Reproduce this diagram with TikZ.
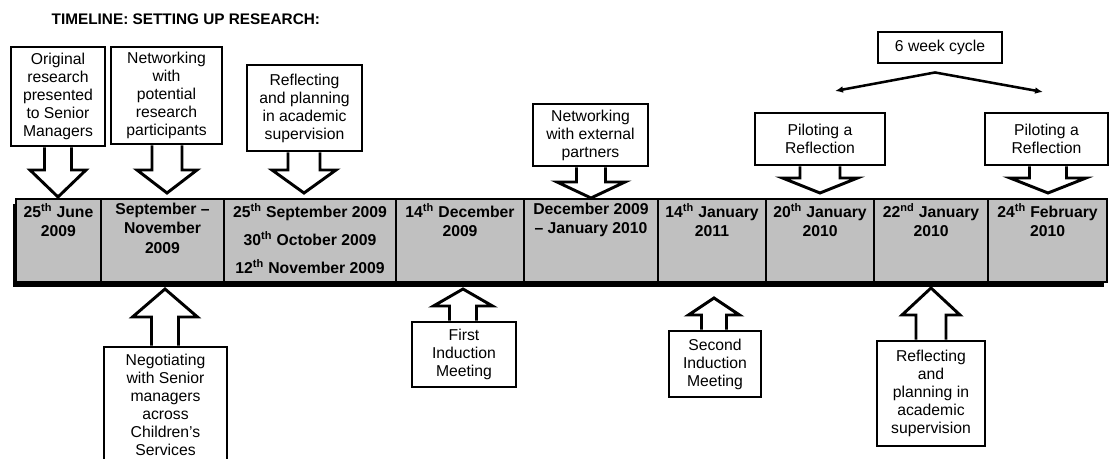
\documentclass[tikz,border=0pt]{standalone}
\usepackage{fontspec}
\setmainfont{Liberation Sans}
\usetikzlibrary{positioning,calc,backgrounds,arrows.meta}
\definecolor{barGray}{RGB}{192,192,192}

% block arrow from a box edge (#1) to a tip (#2): stem half width, head half width, head length
\newcommand{\callarrow}[5]{%
  \draw[blockarrow] ($(#2 |- #1)+(-#3,0)$) -- ($(#2)+(-#3,#5)$) -- ($(#2)+(-#4,#5)$) -- (#2)
    -- ($(#2)+(#4,#5)$) -- ($(#2)+(#3,#5)$) -- ($(#2 |- #1)+(#3,0)$);}

\begin{document}
\begin{tikzpicture}[x=0.75pt, y=-0.75pt]
	\tikzset{
		callbox/.style={rectangle, draw=black, line width=2.2pt, align=center, inner sep=0pt, font=\fontsize{11.8}{13.5}\selectfont},
		blockarrow/.style={line width=2.2pt, line join=miter},
		cell/.style={rectangle, draw=black, line width=1pt, fill=barGray, minimum height=62.25pt, outer sep=0pt, inner sep=0pt},
		celltext/.style={anchor=north, align=center, inner sep=3pt, font=\bfseries\fontsize{11.8}{14.5}\selectfont},
		cyclearrow/.style={{Latex[length=6pt,width=5pt]}-{Latex[length=6pt,width=5pt]}, line width=1.9pt}
	}
	\useasboundingbox (0,0) rectangle (1109,459);
	\clip (0,0) rectangle (1109,459);

	\node[anchor=west, font=\bfseries\fontsize{11.5}{13.5}\selectfont] (title) at (47,19) {TIMELINE: SETTING UP RESEARCH:};

	% the timeline bar
	\node[cell, anchor=north west, minimum width=63.75pt, label={[celltext]north:{25\textsuperscript{th} June\\2009}}] (c1) at (16,199) {};
	\node[cell, right=0pt of c1, minimum width=92.25pt, label={[celltext]north:{September –\\November\\2009}}] (c2) {};
	\node[cell, right=0pt of c2, minimum width=129pt, label={[celltext]north:{25\textsuperscript{th} September 2009\\[6.5pt]30\textsuperscript{th} October 2009\\[6.5pt]12\textsuperscript{th} November 2009}}] (c3) {};
	\node[cell, right=0pt of c3, minimum width=96pt, label={[celltext]north:{14\textsuperscript{th} December\\2009}}] (c4) {};
	\node[cell, right=0pt of c4, minimum width=100.5pt, label={[celltext]north:{December 2009\\– January 2010}}] (c5) {};
	\node[cell, right=0pt of c5, minimum width=81pt, label={[celltext]north:{14\textsuperscript{th} January\\2011}}] (c6) {};
	\node[cell, right=0pt of c6, minimum width=81pt, label={[celltext]north:{20\textsuperscript{th} January\\2010}}] (c7) {};
	\node[cell, right=0pt of c7, minimum width=85.5pt, label={[celltext]north:{22\textsuperscript{nd} January\\2010}}] (c8) {};
	\node[cell, right=0pt of c8, minimum width=89.25pt, label={[celltext]north:{24\textsuperscript{th} February\\2010}}] (c9) {};
	\begin{scope}[on background layer]
		\fill[black] ($(c1.north west)+(-3,5)$) rectangle ($(c9.south east)+(-3,5)$);
	\end{scope}

	% callouts above the bar
	\node[callbox, minimum width=70.5pt, minimum height=74.25pt] (orig) at (58,96.5) {Original\\research\\presented\\to Senior\\Managers};
	\node[callbox, minimum width=83.25pt, minimum height=72.75pt] (netpot) at (166.5,95.5) {Networking\\with\\potential\\research\\participants};
	\node[callbox, minimum width=86.25pt, minimum height=64.5pt] (reflA) at (304.5,108) {Reflecting\\and planning\\in academic\\supervision};
	\node[callbox, minimum width=86.25pt, minimum height=46.5pt] (netext) at (590.5,135) {Networking\\with external\\partners};
	\node[callbox, minimum width=97.5pt, minimum height=39pt] (pilotA) at (820,139) {Piloting a\\Reflection};
	\node[callbox, minimum width=92.25pt, minimum height=39pt] (pilotB) at (1046.5,139) {Piloting a\\Reflection};
	\node[callbox, minimum width=93pt, minimum height=23.25pt] (cycle) at (940,47.5) {6 week cycle};

	\coordinate (t1) at (58,197);
	\coordinate (t2) at (167,193);
	\coordinate (t3) at (304,193);
	\coordinate (t4) at (591,198);
	\coordinate (t5) at (820,193);
	\coordinate (t6) at (1048,193);
	\callarrow{orig.south}{t1}{13.5}{28}{-27}
	\callarrow{netpot.south}{t2}{15}{30}{-23}
	\callarrow{reflA.south}{t3}{16}{32}{-23}
	\callarrow{netext.south}{t4}{14.5}{34}{-16}
	\callarrow{pilotA.south}{t5}{20}{37.5}{-15}
	\callarrow{pilotB.south}{t6}{18.5}{38}{-15}

	\coordinate (cl) at (835,91);
	\coordinate (cr) at (1043,92);
	\draw[cyclearrow] (cl) -- ($(cycle.south)+(-5,8)$) -- (cr);

	% callouts below the bar
	\node[callbox, minimum width=92.25pt, minimum height=87pt] (negot) at (165.5,405) {Negotiating\\with Senior\\managers\\across\\Children's\\Services};
	\node[callbox, minimum width=78pt, minimum height=48.75pt] (indA) at (464,354.5) {First\\Induction\\Meeting};
	\node[callbox, minimum width=69pt, minimum height=49.5pt] (indB) at (715,364) {Second\\Induction\\Meeting};
	\node[callbox, minimum width=81pt, minimum height=78.75pt] (reflB) at (931,393.5) {Reflecting\\and\\planning in\\academic\\supervision};

	\coordinate (b1) at (165,289);
	\coordinate (b2) at (463,289);
	\coordinate (b3) at (714,298);
	\coordinate (b4) at (931,288);
	\callarrow{negot.north}{b1}{13.5}{32.5}{28}
	\callarrow{indA.north}{b2}{13.5}{29.5}{17}
	\callarrow{indB.north}{b3}{12.5}{25.5}{17}
	\callarrow{reflB.north}{b4}{15}{29}{27}
\end{tikzpicture}
\end{document}
